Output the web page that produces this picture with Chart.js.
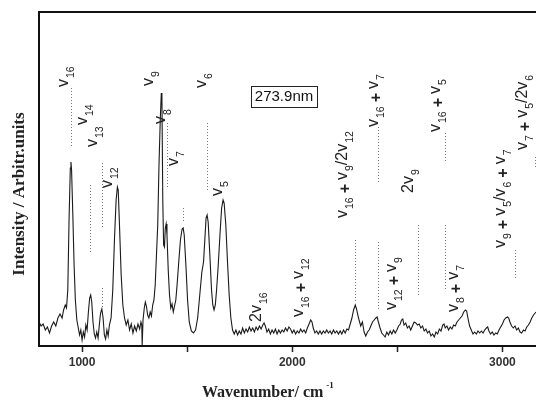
<!DOCTYPE html>
<html>
<head>
<meta charset="utf-8">
<script src="https://cdn.jsdelivr.net/npm/chart.js@4/dist/chart.umd.min.js"></script>
<style>
  html, body { margin: 0; padding: 0; background: #fff; }
</style>
</head>
<body>
<canvas id="spectrum" width="536" height="400"></canvas>
<script>
// spectrum (intensity in arbitrary units)
const wavenumbers = [
  795, 805, 815, 825, 835, 845, 855, 865, 875, 885, 895, 905, 912, 920, 926, 932, 938, 944, 947, 950,
  956, 962, 968, 975, 982, 988, 994, 1000, 1006, 1012, 1018, 1024, 1030, 1036, 1041, 1046, 1052, 1058, 1064, 1070,
  1076, 1082, 1088, 1094, 1100, 1106, 1112, 1118, 1124, 1130, 1138, 1146, 1154, 1162, 1168, 1172, 1178, 1186, 1194, 1202,
  1210, 1218, 1226, 1234, 1242, 1250, 1258, 1266, 1274, 1280, 1284, 1286, 1288, 1290, 1296, 1301, 1306, 1312, 1318, 1324,
  1330, 1336, 1342, 1348, 1354, 1360, 1366, 1372, 1377, 1380, 1384, 1388, 1392, 1396, 1400, 1404, 1410, 1416, 1422, 1428,
  1434, 1440, 1446, 1452, 1460, 1468, 1476, 1481, 1486, 1494, 1502, 1510, 1520, 1530, 1540, 1550, 1560, 1570, 1578, 1584,
  1590, 1595, 1600, 1608, 1616, 1622, 1628, 1634, 1640, 1648, 1656, 1664, 1671, 1676, 1684, 1692, 1700, 1708, 1716, 1724,
  1732, 1740, 1748, 1756, 1764, 1772, 1780, 1788, 1796, 1804, 1812, 1820, 1828, 1836, 1844, 1852, 1860, 1866, 1872, 1880,
  1888, 1896, 1904, 1912, 1920, 1928, 1936, 1944, 1952, 1960, 1968, 1976, 1984, 1992, 2000, 2008, 2016, 2024, 2032, 2040,
  2048, 2056, 2064, 2072, 2080, 2088, 2094, 2100, 2108, 2116, 2124, 2132, 2140, 2148, 2156, 2164, 2172, 2180, 2188, 2196,
  2204, 2212, 2220, 2228, 2236, 2244, 2252, 2260, 2268, 2276, 2284, 2292, 2300, 2306, 2312, 2318, 2326, 2334, 2342, 2350,
  2358, 2366, 2374, 2382, 2390, 2398, 2404, 2410, 2418, 2426, 2434, 2442, 2450, 2458, 2466, 2474, 2482, 2490, 2498, 2506,
  2514, 2520, 2526, 2532, 2540, 2548, 2556, 2564, 2572, 2580, 2588, 2596, 2604, 2612, 2620, 2628, 2636, 2644, 2652, 2660,
  2668, 2676, 2684, 2692, 2700, 2708, 2716, 2722, 2728, 2736, 2744, 2752, 2760, 2768, 2776, 2784, 2792, 2800, 2808, 2816,
  2824, 2830, 2836, 2844, 2852, 2860, 2868, 2876, 2884, 2892, 2900, 2908, 2916, 2924, 2930, 2936, 2944, 2952, 2960, 2968,
  2976, 2984, 2992, 3000, 3008, 3016, 3024, 3030, 3036, 3044, 3052, 3060, 3068, 3076, 3084, 3092, 3100, 3108, 3116, 3124,
  3132, 3140, 3148, 3156, 3160,
]
const intensities = [
  24, 20, 22, 16, 19, 13, 20, 24, 20, 28, 32, 28, 36, 41, 38, 56, 126, 178, 184, 176,
  131, 81, 46, 26, 18, 11, 16, 6, 14, 9, 21, 16, 34, 48, 51, 44, 24, 12, 8, 14,
  8, 21, 33, 37, 28, 11, 7, 16, 10, 21, 28, 56, 106, 146, 159, 156, 121, 71, 41, 28,
  21, 26, 16, 22, 13, 20, 15, 22, 17, 24, 21, 1, 1, 26, 38, 44, 40, 31, 28, 34,
  30, 41, 46, 61, 91, 121, 181, 226, 253, 246, 146, 101, 99, 118, 122, 111, 76, 51, 38, 42,
  34, 40, 46, 61, 84, 106, 117, 118, 111, 81, 46, 24, 15, 13, 16, 28, 51, 74, 84, 106,
  128, 131, 124, 91, 56, 41, 36, 41, 56, 81, 111, 138, 146, 143, 121, 84, 51, 28, 16, 12,
  16, 11, 15, 12, 18, 13, 17, 14, 19, 15, 18, 14, 19, 16, 20, 17, 21, 23, 20, 14,
  17, 12, 16, 13, 17, 12, 16, 13, 16, 14, 18, 15, 19, 17, 13, 16, 12, 15, 13, 17,
  14, 16, 13, 18, 22, 26, 24, 18, 13, 15, 12, 15, 12, 15, 13, 16, 13, 15, 12, 16,
  13, 15, 12, 15, 12, 16, 13, 17, 16, 22, 28, 36, 41, 37, 31, 26, 20, 24, 14, 10,
  14, 16, 20, 24, 26, 28, 29, 24, 18, 13, 11, 9, 14, 11, 15, 12, 16, 13, 16, 20,
  22, 26, 27, 21, 23, 18, 20, 16, 20, 24, 23, 21, 22, 18, 20, 15, 17, 13, 15, 10,
  12, 9, 14, 12, 17, 15, 21, 22, 18, 20, 16, 19, 17, 21, 20, 24, 26, 28, 30, 34,
  36, 35, 28, 20, 16, 12, 14, 12, 15, 13, 15, 13, 16, 18, 19, 15, 12, 14, 11, 13,
  12, 16, 19, 22, 26, 28, 29, 28, 24, 20, 18, 20, 16, 18, 14, 13, 16, 15, 19, 21,
  24, 28, 31, 33, 34,
]
const tickValues = [1000, 1500, 2000, 2500, 3000]
const tickLabels = ['1000', '', '2000', '', '3000']

// band assignments: text, wavenumber of the label baseline, intensity where the text starts
const bandLabelText = [
  'v_{16}', 'v_{14}', 'v_{13}', 'v_{12}', 'v_{9}', 'v_{8}', 'v_{7}', 'v_{6}', 'v_{5}',
  '2v_{16}', 'v_{16}+v_{12}', 'v_{16}+v_{9}/2v_{12}', 'v_{16}+v_{7}', '2v_{9}', 'v_{16}+v_{5}',
  'v_{12}+v_{9}', 'v_{8}+v_{7}', 'v_{9}+v_{5}/v_{6}+v_{7}', 'v_{7}+v_{5}/2v_{6}',
]
const bandLabelWave = [933, 1024, 1071, 1143, 1338, 1395, 1457, 1590, 1666, 1852, 2052, 2261, 2408, 2575, 2704, 2494, 2789, 3013, 3118]
const bandLabelLevel = [259, 221, 199, 158, 260, 222, 180, 258, 150, 24, 29, 128, 219, 153, 214, 36, 34, 98, 196]

// dotted guide lines under the labels
const markerWave = [948, 1038, 1095, 1095, 1406, 1479, 1596, 2301, 2410, 2410, 2597, 2727, 2727, 3060, 3156]
const markerTop = [258, 161, 183, 58, 223, 138, 223, 106, 219, 104, 121, 213, 121, 96, 189]
const markerBottom = [199, 94, 119, 39, 158, 124, 156, 43, 164, 36, 51, 184, 56, 66, 179]

const excitationLabel = '273.9nm'
const excitationWave = 1961
const excitationLevel = 250

const SANS = '"Liberation Sans", Arial, sans-serif'
const SERIF = '"Liberation Serif", "Times New Roman", serif'
const INK = '#222'

function parseLabel(text) {
  const segs = []
  let i = 0
  while (i < text.length) {
    if (text.startsWith('_{', i)) {
      const end = text.indexOf('}', i)
      segs.push({ kind: 'sub', text: text.slice(i + 2, end) })
      i = end + 1
    } else if (text[i] === '+') {
      segs.push({ kind: 'plus', text: '+' })
      i++
    } else {
      segs.push({ kind: 'main', text: text[i] })
      i++
    }
  }
  return segs
}

function drawBandLabel(ctx, text, x, y) {
  ctx.save()
  ctx.translate(x, y)
  ctx.rotate(-Math.PI / 2)
  ctx.textAlign = 'left'
  ctx.textBaseline = 'alphabetic'
  ctx.fillStyle = INK
  let pos = 0
  for (const seg of parseLabel(text)) {
    if (seg.kind === 'sub') {
      ctx.font = `10.5px ${SANS}`
      ctx.fillText(seg.text, pos + 1, 6)
      pos += ctx.measureText(seg.text).width + 1
    } else if (seg.kind === 'plus') {
      ctx.font = `bold 16px ${SANS}`
      pos += 4
      ctx.fillText('+', pos, 3)
      pos += ctx.measureText('+').width + 4
    } else {
      ctx.font = `16px ${SANS}`
      ctx.fillText(seg.text, pos, 0)
      pos += ctx.measureText(seg.text).width
    }
  }
  ctx.restore()
}

const decor = {
  id: 'decor',
  afterDraw(chart) {
    const { ctx, chartArea: area, scales: { x, y } } = chart
    ctx.save()

    // frame
    ctx.strokeStyle = '#111'
    ctx.lineWidth = 2
    ctx.beginPath()
    ctx.moveTo(area.right + 2, area.top)
    ctx.lineTo(area.left, area.top)
    ctx.lineTo(area.left, area.bottom)
    ctx.lineTo(area.right + 2, area.bottom)
    ctx.stroke()

    // dotted guides
    ctx.strokeStyle = '#777'
    ctx.lineWidth = 1
    ctx.setLineDash([1, 2])
    markerWave.forEach((w, i) => {
      const px = Math.round(x.getPixelForValue(w)) + 0.5
      ctx.beginPath()
      ctx.moveTo(px, y.getPixelForValue(markerTop[i]))
      ctx.lineTo(px, y.getPixelForValue(markerBottom[i]))
      ctx.stroke()
    })
    ctx.setLineDash([])

    bandLabelText.forEach((t, i) => {
      drawBandLabel(ctx, t, x.getPixelForValue(bandLabelWave[i]), y.getPixelForValue(bandLabelLevel[i]))
    })

    // excitation wavelength box
    const bx = x.getPixelForValue(excitationWave)
    const by = y.getPixelForValue(excitationLevel)
    ctx.font = `15px ${SANS}`
    const tw = ctx.measureText(excitationLabel).width
    ctx.strokeStyle = '#222'
    ctx.lineWidth = 1
    ctx.strokeRect(Math.round(bx - tw / 2 - 4) + 0.5, Math.round(by - 10) + 0.5, Math.round(tw + 8), 21)
    ctx.fillStyle = '#111'
    ctx.textAlign = 'center'
    ctx.textBaseline = 'middle'
    ctx.fillText(excitationLabel, bx, by + 1)

    // axis titles
    ctx.fillStyle = INK
    ctx.textAlign = 'left'
    ctx.textBaseline = 'alphabetic'
    ctx.font = `bold 16px ${SERIF}`
    const xt = 'Wavenumber/ cm'
    ctx.fillText(xt, 202, 397)
    const xw = ctx.measureText(xt).width
    ctx.font = `bold 9px ${SERIF}`
    ctx.fillText('-1', 202 + xw + 3, 388)

    ctx.save()
    ctx.translate(24, 194)
    ctx.rotate(-Math.PI / 2)
    ctx.textAlign = 'center'
    ctx.font = `bold 17px ${SERIF}`
    ctx.fillText('Intensity / Arbitr.units', 0, 0)
    ctx.restore()

    ctx.restore()
  },
}

new Chart(document.getElementById('spectrum'), {
  type: 'line',
  data: {
    datasets: [
      {
        data: wavenumbers.map((w, i) => ({ x: w, y: intensities[i] })),
        borderColor: '#1a1a1a',
        borderWidth: 1.1,
        pointRadius: 0,
        tension: 0,
        fill: false,
      },
    ],
  },
  options: {
    responsive: false,
    animation: false,
    devicePixelRatio: 1,
    layout: { padding: { left: 39, top: 12, right: 0, bottom: 0 } },
    plugins: {
      legend: { display: false },
      tooltip: { enabled: false },
    },
    scales: {
      x: {
        type: 'linear',
        min: 795,
        max: 3160,
        afterBuildTicks: axis => {
          axis.ticks = tickValues.map(value => ({ value }))
        },
        afterFit: axis => {
          axis.height = 54
        },
        border: { display: false },
        grid: {
          drawOnChartArea: false,
          drawTicks: true,
          tickLength: 6,
          tickColor: '#222',
          tickWidth: 1.5,
        },
        ticks: {
          padding: 3,
          maxRotation: 0,
          autoSkip: false,
          color: '#333',
          font: { family: SANS, size: 12, weight: 'bold' },
          callback: (value, index) => tickLabels[index],
        },
      },
      y: {
        display: false,
        min: 0,
        max: 334,
      },
    },
  },
  plugins: [decor],
})
</script>
</body>
</html>
